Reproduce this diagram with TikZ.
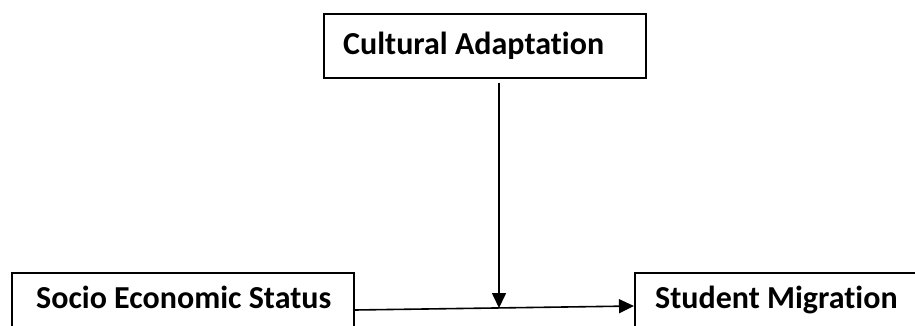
\documentclass[tikz,border=0pt]{standalone}
\usepackage{fontspec}
\setmainfont{Carlito}[RawFeature=-liga]
\usetikzlibrary{arrows.meta}
\begin{document}
\begin{tikzpicture}[x=1pt,y=-1pt,
  box/.style={draw=black, line width=1.6pt, fill=white, inner sep=0pt, anchor=north west},
  lbl/.style={inner sep=0pt, anchor=base west, font=\fontsize{32}{38}\selectfont\bfseries},
  arr/.style={line width=1.6pt, -{Triangle[length=15pt,width=14pt]}}]
\useasboundingbox (0,0) rectangle (915,325);
\clip (0,0) rectangle (915,325);
\fill[white] (0,0) rectangle (915,325);
\node[box, minimum width=322pt, minimum height=64pt] (cul) at (323,13) {};
\node[box, minimum width=342pt, minimum height=80pt] (ses) at (11,272) {};
\node[box, minimum width=300pt, minimum height=80pt] (stm) at (634,272) {};
\node[lbl] (culT) at (343,54) {Cultural Adaptation};
\node[lbl] (sesT) at (36,308) {Socio Economic Status};
\node[lbl] (stmT) at (655,308) {Student Migration};
\coordinate (mid) at (499,308);
\draw[arr] ([yshift=-4pt]cul.south -| mid) -- (mid);
\draw[arr] ([yshift=-38pt]ses.north east) -- ([yshift=-34pt]stm.north west);
\end{tikzpicture}
\end{document}
